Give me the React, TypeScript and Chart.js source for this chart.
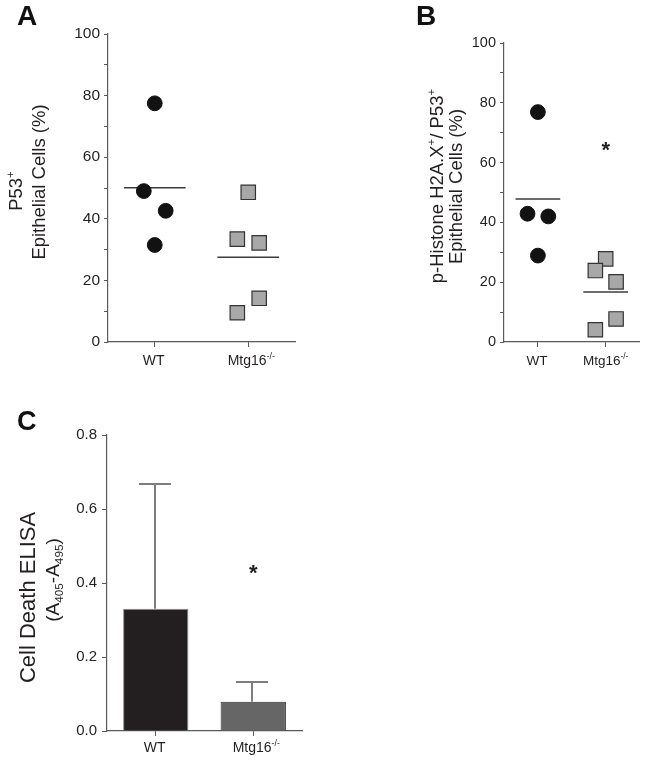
import React, { useEffect, useRef } from 'react';
import { Chart, registerables } from 'chart.js';

Chart.register(...registerables);

const FONT = "'Liberation Sans', Arial, Helvetica, sans-serif";
const TEXT = '#231f20';
const AXIS = '#5a5a5a';

// Categories
const GROUPS = ['WT', 'Mtg16'];
const GROUP_SUP = ['', '-/-'];

// Panel A: P53+ epithelial cells (%)
const A_WT = [77.5, 49.0, 42.6, 31.5];
const A_WT_SLOT = [0, -1, 1, 0];
const A_KO = [48.6, 33.4, 32.2, 14.2, 9.5];
const A_KO_SLOT = [0, -1, 1, 1, -1];
const A_MEAN = [50.1, 27.5];

// Panel B: p-Histone H2A.X+/P53+ epithelial cells (%)
const B_WT = [76.9, 42.9, 42.0, 28.9];
const B_WT_SLOT = [0, -1, 1, 0];
const B_KO = [27.8, 23.9, 20.1, 7.7, 4.1];
const B_KO_SLOT = [0, -1, 1, 1, -1];
const B_MEAN = [47.8, 16.7];
const B_STAR = 66;

// Panel C: Cell death ELISA
const C_MEAN = [0.3305, 0.079];
const C_ERR_TOP = [0.6676, 0.1316];
const C_STAR = 0.441;

// Tick labels
const PCT_LABELS = [0, 20, 40, 60, 80, 100];
const C_LABELS = [0, 0.2, 0.4, 0.6, 0.8];

type Seg = { t: string; k?: 'sup' | 'sub' };

function drawRich(
  ctx: CanvasRenderingContext2D,
  segs: Seg[],
  x: number,
  y: number,
  size: number,
  opts: { rotate?: boolean; bold?: boolean; align?: 'center' | 'left'; color?: string } = {}
) {
  const small = size * 0.62;
  const weight = opts.bold ? 'bold ' : '';
  ctx.save();
  ctx.translate(x, y);
  if (opts.rotate) ctx.rotate(-Math.PI / 2);
  const widths = segs.map((s) => {
    ctx.font = `${weight}${s.k ? small : size}px ${FONT}`;
    return ctx.measureText(s.t).width;
  });
  const total = widths.reduce((a, b) => a + b, 0);
  let cx = opts.align === 'left' ? 0 : -total / 2;
  const base = size * 0.358;
  ctx.textBaseline = 'alphabetic';
  ctx.textAlign = 'left';
  ctx.fillStyle = opts.color || TEXT;
  segs.forEach((s, i) => {
    ctx.font = `${weight}${s.k ? small : size}px ${FONT}`;
    let dy = base;
    if (s.k === 'sup') dy = base - size * 0.4;
    if (s.k === 'sub') dy = base + size * 0.22;
    ctx.fillText(s.t, cx, dy);
    cx += widths[i];
  });
  ctx.restore();
}

function drawLetter(ctx: CanvasRenderingContext2D, t: string, x: number, baseline: number, size: number) {
  ctx.save();
  ctx.font = `bold ${size}px ${FONT}`;
  ctx.fillStyle = '#111';
  ctx.textBaseline = 'alphabetic';
  ctx.textAlign = 'left';
  ctx.fillText(t, x, baseline);
  ctx.restore();
}

function drawStar(ctx: CanvasRenderingContext2D, x: number, y: number, size: number) {
  ctx.save();
  ctx.font = `bold ${size}px ${FONT}`;
  ctx.fillStyle = TEXT;
  ctx.textAlign = 'center';
  ctx.textBaseline = 'alphabetic';
  ctx.fillText('*', x, y + size * 0.56);
  ctx.restore();
}

interface DotPanel {
  wt: number[];
  wtSlot: number[];
  ko: number[];
  koSlot: number[];
  mean: number[];
  jitter: number;
  yw: number;
  top: number;
  right: number;
  xh: number;
  tickSize: number;
  titles: { segs: Seg[]; x: number; y: number }[];
  titleSize: number;
  labelSize: number;
  labelDy: number;
  labelDx: number;
  letter: { t: string; x: number; y: number };
  star?: number;
}

function dotChart(canvas: HTMLCanvasElement, p: DotPanel) {
  const overlay = {
    id: 'overlay',
    afterDraw(chart: any) {
      const ctx = chart.ctx as CanvasRenderingContext2D;
      const xs = chart.scales.x;
      const ys = chart.scales.y;
      p.titles.forEach((tl) => drawRich(ctx, tl.segs, tl.x, tl.y, p.titleSize, { rotate: true }));
      GROUPS.forEach((g, i) => {
        const segs: Seg[] = [{ t: g }];
        if (GROUP_SUP[i]) segs.push({ t: GROUP_SUP[i], k: 'sup' });
        drawRich(ctx, segs, xs.getPixelForValue(i + 1) + (GROUP_SUP[i] ? p.labelDx : -1), ys.bottom + p.labelDy, p.labelSize);
      });
      drawLetter(ctx, p.letter.t, p.letter.x, p.letter.y, 28);
      if (p.star !== undefined) drawStar(ctx, xs.getPixelForValue(2), ys.getPixelForValue(p.star), 22);
    },
  };
  return new Chart(canvas, {
    type: 'scatter',
    data: {
      datasets: [
        {
          data: p.wt.map((v, i) => ({ x: 1 + p.wtSlot[i] * p.jitter, y: v })),
          pointStyle: 'circle',
          pointRadius: 7.4,
          backgroundColor: '#121212',
          borderColor: '#121212',
          borderWidth: 1,
        },
        {
          data: p.ko.map((v, i) => ({ x: 2 + p.koSlot[i] * p.jitter, y: v })),
          pointStyle: 'rect',
          pointRadius: 10.2,
          backgroundColor: '#a8a8a8',
          borderColor: '#333333',
          borderWidth: 1.2,
        },
        {
          data: [
            { x: 1 - 0.33, y: p.mean[0] },
            { x: 1 + 0.33, y: p.mean[0] },
          ],
          showLine: true,
          pointRadius: 0,
          borderColor: '#3c3c3c',
          borderWidth: 1.5,
        },
        {
          data: [
            { x: 2 - 0.33, y: p.mean[1] },
            { x: 2 + 0.33, y: p.mean[1] },
          ],
          showLine: true,
          pointRadius: 0,
          borderColor: '#3c3c3c',
          borderWidth: 1.5,
        },
      ] as any,
    },
    options: {
      animation: false,
      responsive: false,
      devicePixelRatio: 1,
      layout: { padding: { left: 0, top: p.top, right: p.right, bottom: 0 } },
      plugins: { legend: { display: false }, tooltip: { enabled: false } },
      scales: {
        x: {
          type: 'linear',
          min: 0.5,
          max: 2.5,
          afterBuildTicks: (s: any) => {
            s.ticks = [{ value: 1 }, { value: 2 }];
          },
          afterFit: (s: any) => {
            s.height = p.xh;
          },
          ticks: { display: false },
          grid: { drawOnChartArea: false, drawTicks: true, tickLength: 5, color: AXIS, lineWidth: 1 },
          border: { display: true, color: AXIS, width: 1.2 },
        },
        y: {
          type: 'linear',
          min: 0,
          max: 100,
          afterFit: (s: any) => {
            s.width = p.yw;
          },
          ticks: {
            stepSize: 10,
            autoSkip: false,
            padding: 4,
            color: TEXT,
            font: { family: FONT, size: p.tickSize },
            callback: (v: any) => (PCT_LABELS.includes(Number(v)) ? String(v) : ''),
          },
          grid: { drawOnChartArea: false, drawTicks: true, tickLength: 4, color: AXIS, lineWidth: 1 },
          border: { display: true, color: AXIS, width: 1.2 },
        },
      },
    } as any,
    plugins: [overlay as any],
  });
}

function barChart(canvas: HTMLCanvasElement) {
  const overlay = {
    id: 'overlayC',
    afterDatasetsDraw(chart: any) {
      const ctx = chart.ctx as CanvasRenderingContext2D;
      const xs = chart.scales.x;
      const ys = chart.scales.y;
      ctx.save();
      ctx.strokeStyle = '#7d7d7d';
      ctx.lineWidth = 2;
      C_MEAN.forEach((m, i) => {
        const x = Math.round(xs.getPixelForValue(i)) - 1;
        const y0 = ys.getPixelForValue(m);
        const y1 = Math.round(ys.getPixelForValue(C_ERR_TOP[i]));
        ctx.beginPath();
        ctx.moveTo(x, y0);
        ctx.lineTo(x, y1);
        ctx.moveTo(x - 16, y1);
        ctx.lineTo(x + 16, y1);
        ctx.stroke();
      });
      ctx.restore();
    },
    afterDraw(chart: any) {
      const ctx = chart.ctx as CanvasRenderingContext2D;
      const xs = chart.scales.x;
      const ys = chart.scales.y;
      drawRich(ctx, [{ t: 'Cell Death ELISA' }], 27.5, 217.5, 22, { rotate: true });
      drawRich(
        ctx,
        [{ t: '(A' }, { t: '405', k: 'sub' }, { t: '-A' }, { t: '495', k: 'sub' }, { t: ')' }],
        52,
        200,
        19,
        { rotate: true }
      );
      GROUPS.forEach((g, i) => {
        const segs: Seg[] = [{ t: g }];
        if (GROUP_SUP[i]) segs.push({ t: GROUP_SUP[i], k: 'sup' });
        drawRich(ctx, segs, xs.getPixelForValue(i) + (GROUP_SUP[i] ? 3 : -1), ys.bottom + 16, 14);
      });
      drawLetter(ctx, 'C', 17, 50, 27);
      drawStar(ctx, xs.getPixelForValue(1), ys.getPixelForValue(C_STAR), 22);
    },
  };
  return new Chart(canvas, {
    type: 'bar',
    data: {
      labels: GROUPS,
      datasets: [
        {
          data: C_MEAN,
          backgroundColor: ['#231f20', '#666666'],
          borderColor: ['#8a8a8a', '#2e2e2e'],
          borderWidth: 1,
          barPercentage: 0.67,
          categoryPercentage: 1,
        },
      ],
    },
    options: {
      animation: false,
      responsive: false,
      devicePixelRatio: 1,
      layout: { padding: { left: 0, top: 55, right: 23, bottom: 0 } },
      plugins: { legend: { display: false }, tooltip: { enabled: false } },
      scales: {
        x: {
          type: 'category',
          afterFit: (s: any) => {
            s.height = 29;
          },
          ticks: { display: false },
          grid: { offset: false, drawOnChartArea: false, drawTicks: true, tickLength: 5, color: AXIS },
          border: { display: true, color: AXIS, width: 1.2 },
        },
        y: {
          type: 'linear',
          min: 0,
          max: 0.8,
          afterFit: (s: any) => {
            s.width = 107;
          },
          ticks: {
            stepSize: 0.2,
            padding: 5,
            color: TEXT,
            font: { family: FONT, size: 15 },
            callback: (v: any) => {
              const n = Number(v);
              return C_LABELS.some((l) => Math.abs(l - n) < 1e-6) ? n.toFixed(1) : '';
            },
          },
          grid: { drawOnChartArea: false, drawTicks: true, tickLength: 5, color: AXIS },
          border: { display: true, color: AXIS, width: 1.2 },
        },
      },
    } as any,
    plugins: [overlay as any],
  });
}

export default function App() {
  const refA = useRef<HTMLCanvasElement>(null);
  const refB = useRef<HTMLCanvasElement>(null);
  const refC = useRef<HTMLCanvasElement>(null);

  useEffect(() => {
    const charts: Chart[] = [];
    if (refA.current) {
      charts.push(
        dotChart(refA.current, {
          wt: A_WT,
          wtSlot: A_WT_SLOT,
          ko: A_KO,
          koSlot: A_KO_SLOT,
          mean: A_MEAN,
          jitter: 0.117,
          yw: 108,
          top: 34,
          right: 30,
          xh: 38,
          tickSize: 15.5,
          titles: [
            { segs: [{ t: 'P53' }, { t: '+', k: 'sup' }], x: 15, y: 191 },
            { segs: [{ t: 'Epithelial Cells (%)' }], x: 38.5, y: 182 },
          ],
          titleSize: 18.5,
          labelSize: 14,
          labelDy: 18,
          labelDx: 3,
          letter: { t: 'A', x: 17, y: 25 },
        })
      );
    }
    if (refB.current) {
      charts.push(
        dotChart(refB.current, {
          wt: B_WT,
          wtSlot: B_WT_SLOT,
          ko: B_KO,
          koSlot: B_KO_SLOT,
          mean: B_MEAN,
          jitter: 0.153,
          yw: 179,
          top: 43,
          right: 0,
          xh: 38,
          tickSize: 14.5,
          titles: [
            {
              segs: [{ t: 'p-Histone H2A.X' }, { t: '+', k: 'sup' }, { t: '/ P53' }, { t: '+', k: 'sup' }],
              x: 111,
              y: 186,
            },
            { segs: [{ t: 'Epithelial Cells (%)' }], x: 130, y: 186.5 },
          ],
          titleSize: 18.5,
          labelSize: 13.5,
          labelDy: 18,
          labelDx: 0,
          letter: { t: 'B', x: 91, y: 25 },
          star: B_STAR,
        })
      );
    }
    if (refC.current) charts.push(barChart(refC.current));
    return () => charts.forEach((c) => c.destroy());
  }, []);

  const abs = (left: number, top: number): React.CSSProperties => ({ position: 'absolute', left, top });
  return (
    <div style={{ position: 'absolute', left: 0, top: 0, width: 651, height: 760, background: '#fff' }}>
      <canvas ref={refA} width={325} height={380} style={abs(0, 0)} />
      <canvas ref={refB} width={326} height={380} style={abs(325, 0)} />
      <canvas ref={refC} width={325} height={380} style={abs(0, 380)} />
    </div>
  );
}
